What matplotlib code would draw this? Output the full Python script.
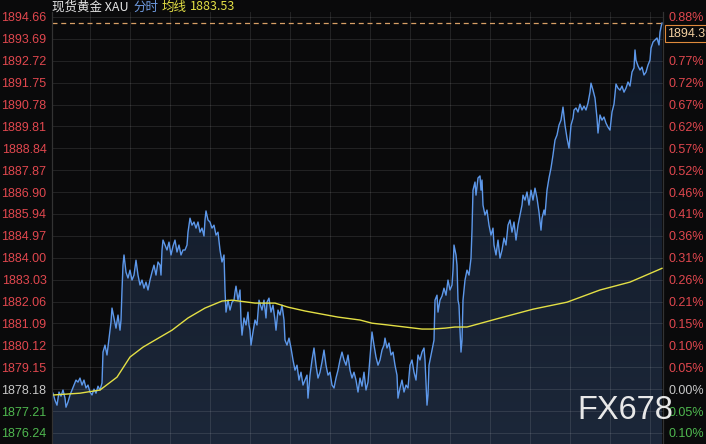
import numpy as np
import matplotlib
matplotlib.use("Agg")
import matplotlib.pyplot as plt
from matplotlib.colors import LinearSegmentedColormap
from matplotlib.patches import PathPatch

# minute index / spot gold price
minutes = [0, 2, 4, 6, 8, 10, 12, 13, 15, 17, 19, 21, 23, 25, 27, 29, 31, 33, 35, 37, 39, 41, 43, 45, 47, 49,
           50, 52, 54, 56, 58, 59, 61, 63, 65, 67, 68, 69, 70, 71, 73, 75, 77, 79, 81, 83, 85, 87, 89, 91, 93,
           95, 97, 99, 101, 103, 105,
           107, 108, 109, 110, 112, 114, 116, 118, 120, 122, 124, 126, 128, 130, 132, 134, 135, 137, 139, 141,
           143, 145, 147, 149, 151, 152, 153, 155, 157, 159, 161, 163, 165, 167, 169, 171, 172, 173, 175, 177,
           179, 181, 182, 183, 185, 187, 188, 189, 191, 193, 195, 196, 197, 198, 200, 202, 204, 206,
           209, 211, 213, 214, 216, 218, 220, 222, 223, 225, 227, 229, 231, 232, 234, 236, 238, 240, 242, 244,
           246, 248, 250, 252, 254, 255, 257, 259, 261, 263, 265, 267, 269, 271, 273, 275, 277, 279, 281, 283,
           285, 287, 289, 291, 293, 295, 297, 299, 301,
           303, 305, 307, 309, 311, 313, 315, 316, 318, 319, 321, 323, 325, 327, 329, 331, 332, 334, 336, 338,
           340, 342, 344, 345, 347, 349, 351, 353, 355, 357, 359, 361, 363, 365, 367, 369, 371, 372, 374, 375,
           376, 378, 380, 381, 382, 384, 385, 387, 389, 391, 393, 395, 397, 399, 400, 401, 403, 404, 405, 406,
           407, 408, 409, 410, 412, 414, 416, 418, 419, 420, 422, 423, 425, 427, 428, 429, 430, 432, 434, 436,
           438, 440, 441, 443, 445, 447, 449, 451, 453, 455, 457, 459, 461, 463, 465, 467, 469, 470, 472, 474,
           476, 478, 480, 482, 484, 486, 488, 489, 491, 492, 494, 496, 498, 500, 502,
           504, 506, 508, 510, 512, 514, 516, 518, 520, 521, 523, 525, 527, 529, 531, 533, 535, 537, 538, 540,
           542, 544, 545, 547, 549, 551, 553, 555, 557, 559, 561, 563, 565, 567, 569, 571, 573, 575, 577, 579,
           581, 582, 583, 585, 587, 589, 591, 593, 595, 597, 598, 600, 602, 604, 606, 607, 608, 609]
prices = [1878.00, 1877.69, 1877.47, 1878.05, 1877.87, 1878.14, 1877.78, 1877.38, 1877.61, 1877.92, 1878.14,
          1878.36, 1878.58, 1878.49, 1878.67, 1878.36, 1878.58, 1878.23, 1878.36, 1878.05, 1877.92, 1878.18,
          1878.00, 1878.31, 1878.14, 1878.45,
          1879.82, 1880.13, 1879.69, 1880.44, 1881.15, 1881.77, 1881.33, 1880.88, 1881.46, 1880.79, 1881.24,
          1882.57, 1883.67, 1884.12, 1883.36, 1883.10, 1883.45, 1883.01, 1883.23, 1883.89, 1883.23, 1882.79,
          1883.01, 1882.65, 1882.92, 1882.57, 1883.01, 1883.36, 1883.67, 1883.23, 1883.81,
          1883.67, 1883.23, 1884.34, 1884.78, 1884.56, 1884.34, 1884.69, 1884.12, 1884.51, 1884.78, 1884.25,
          1884.56, 1884.12, 1884.34, 1884.34, 1884.56, 1885.13, 1885.75, 1885.44, 1885.58, 1885.31, 1885.58,
          1885.13, 1885.31, 1884.96, 1885.67, 1886.07, 1885.67, 1885.58, 1885.31, 1885.44, 1885.00, 1885.13,
          1884.34, 1883.81, 1884.12, 1882.57, 1881.59, 1882.12, 1881.68, 1882.03, 1882.12, 1882.48, 1882.74,
          1882.12, 1882.57, 1881.24, 1880.57, 1881.33, 1881.02, 1881.59, 1881.02, 1880.79, 1880.13, 1880.71,
          1881.24, 1881.02, 1882.12,
          1881.68, 1882.12, 1881.33, 1882.03, 1882.21, 1881.59, 1881.90, 1881.24, 1880.79, 1881.68, 1881.46,
          1881.90, 1881.24, 1880.35, 1880.13, 1880.44, 1880.00, 1879.47, 1879.02, 1879.24, 1878.58, 1878.93,
          1878.36, 1878.58, 1878.80, 1877.78, 1878.80, 1879.47, 1880.00, 1879.24, 1878.67, 1878.93, 1879.38,
          1879.91, 1879.24, 1878.80, 1878.93, 1878.36, 1878.23, 1878.67, 1879.02, 1879.47, 1879.82, 1879.47,
          1879.24, 1879.69, 1879.02, 1878.67, 1878.93,
          1878.58, 1878.05, 1878.67, 1878.31, 1878.93, 1878.14, 1878.49, 1879.02, 1880.13, 1880.71, 1880.13,
          1879.60, 1879.24, 1879.47, 1879.91, 1880.13, 1880.44, 1880.00, 1880.22, 1879.69, 1879.82, 1879.24,
          1878.80, 1877.78, 1878.23, 1878.58, 1878.05, 1878.36, 1878.23, 1879.24, 1879.47, 1878.93, 1878.58,
          1879.69, 1879.47, 1879.82, 1880.00, 1879.47, 1877.47, 1877.92, 1879.24, 1879.69, 1880.13, 1880.35,
          1882.12, 1882.34, 1881.59, 1882.12, 1882.30, 1882.65, 1882.34, 1883.01, 1882.57, 1882.79, 1883.45,
          1884.56, 1884.12, 1883.67, 1882.12, 1881.90, 1880.79, 1879.82, 1880.35, 1882.12, 1883.01, 1883.45,
          1883.23, 1883.98, 1885.22, 1886.99, 1887.35, 1886.77, 1887.53, 1887.62, 1886.99, 1887.44, 1886.33,
          1885.89, 1886.11, 1885.44, 1885.00, 1885.31, 1884.56, 1884.12, 1884.78, 1883.98, 1884.34, 1884.87,
          1884.56, 1885.44, 1885.67, 1885.13, 1885.58, 1884.78, 1885.44, 1885.89, 1886.33, 1886.77, 1886.55,
          1886.91, 1886.33, 1886.99, 1886.55, 1887.08, 1886.64, 1886.02, 1885.22, 1885.75, 1886.11, 1885.89,
          1886.99, 1887.53, 1887.97, 1888.55, 1889.21,
          1889.43, 1889.87, 1890.09, 1890.67, 1889.87, 1889.30, 1888.85, 1889.87, 1890.18, 1890.54, 1890.63,
          1890.45, 1890.80, 1890.54, 1890.71, 1890.54, 1890.85, 1891.33, 1891.73, 1891.42, 1891.07, 1890.18,
          1889.52, 1890.32, 1890.09, 1890.23, 1889.96, 1889.78, 1889.65, 1890.45, 1890.80, 1891.69, 1891.51,
          1891.42, 1891.60, 1891.33, 1891.51, 1891.78, 1891.60, 1892.22, 1892.40, 1893.20, 1892.75, 1892.49,
          1892.31, 1892.44, 1892.09, 1892.22, 1892.53, 1892.75, 1893.28, 1893.55, 1893.64, 1893.73, 1893.42,
          1893.99, 1894.21, 1894.39]

# 均线 (average price line)
avg_minutes = [0, 27, 47, 64, 77, 90, 107, 119, 135, 152, 169, 179, 202, 222, 235, 252, 269, 285, 307, 319,
               335, 352, 369, 379, 392, 402, 414, 447, 480, 514, 547, 577, 609]
avg_prices = [1877.92, 1878.00, 1878.14, 1878.71, 1879.60, 1880.04, 1880.48, 1880.79, 1881.33, 1881.77,
              1882.08, 1882.12, 1881.99, 1881.99, 1881.81, 1881.64, 1881.50, 1881.37, 1881.24, 1881.10,
              1881.02, 1880.93, 1880.84, 1880.84, 1880.88, 1880.93, 1880.93, 1881.33, 1881.72, 1882.03,
              1882.57, 1882.92, 1883.53]

price_ticks = [1894.66, 1893.69, 1892.72, 1891.75, 1890.78, 1889.81, 1888.84, 1887.87, 1886.90, 1885.94,
               1884.97, 1884.00, 1883.03, 1882.06, 1881.09, 1880.12, 1879.15, 1878.18, 1877.21, 1876.24]
base_price = 1878.18
last_price = 1894.39
avg_last = 1883.53

bg = "#0a0a0b"
up_col = "#e0474e"
down_col = "#4fb84f"
flat_col = "#c8c8c8"

fig = plt.figure(figsize=(7.06, 4.44), dpi=100, facecolor=bg)
ax = fig.add_axes([52 / 706, 0, (663 - 52) / 706, (444 - 12) / 444])
ax.set_facecolor(bg)
ax.set_xlim(-1, 610)
ax.set_ylim(1875.75, 1894.88)

# gradient fill under the price line
poly = ax.fill_between(minutes, prices, 1875.75, color="none")
clip = PathPatch(poly.get_paths()[0], transform=ax.transData, facecolor="none", edgecolor="none")
ax.add_patch(clip)
cmap = LinearSegmentedColormap.from_list("fill", ["#1c2739", "#0f1724"])
grad = np.linspace(0, 1, 256).reshape(-1, 1)
im = ax.imshow(grad, extent=[-1, 610, 1875.75, 1894.88], aspect="auto", cmap=cmap,
               origin="lower", zorder=1)
im.set_clip_path(clip)

ax.plot(minutes, prices, color="#5d98ea", lw=1.0, zorder=4)
ax.plot(avg_minutes, avg_prices, color="#e3df45", lw=1.0, zorder=4)
ax.axhline(last_price, color="#d9a066", lw=0.9, ls=(0, (4, 3)), zorder=5)

# grid
ax.set_yticks(price_ticks)
ax.set_xticks(np.arange(37, 610, 40))
ax.grid(True, color="white", alpha=0.1, lw=0.8, zorder=2)
ax.set_axisbelow(False)
ax.tick_params(axis="x", length=0, labelbottom=False)

def label_color(p):
    if p > base_price + 0.001:
        return up_col
    if p < base_price - 0.001:
        return down_col
    return flat_col

ax.set_yticklabels([f"{p:.2f}" for p in price_ticks], fontsize=9, family="Liberation Sans")
ax.tick_params(axis="y", length=0, pad=4)
for lab, p in zip(ax.get_yticklabels(), price_ticks):
    lab.set_color(label_color(p))

ax2 = ax.twinx()
ax2.set_ylim(ax.get_ylim())
ax2.set_yticks(price_ticks)
pct = [f"{abs(p - base_price) / base_price * 100:.2f}%" for p in price_ticks]
pct[1] = ""
ax2.set_yticklabels(pct, fontsize=9, family="Liberation Sans")
ax2.tick_params(axis="y", length=0, pad=4)
for lab, p in zip(ax2.get_yticklabels(), price_ticks):
    lab.set_color(label_color(p))

for a in (ax, ax2):
    for side in ("top", "bottom"):
        a.spines[side].set_visible(False)
    for side in ("left", "right"):
        a.spines[side].set_color("#333333")

# header
ty = 1 - 7 / 444
hdr_font = ["Noto Sans CJK SC", "DejaVu Sans"]
fig.text(52 / 706, ty, "现货黄金 XAU", color="#e6e6e6", fontsize=9, va="center", family=hdr_font)
fig.text(133 / 706, ty, "分时", color="#6f9be0", fontsize=9, va="center", family=hdr_font)
fig.text(162 / 706, ty, "均线", color="#e3df45", fontsize=9, va="center", family=hdr_font)
fig.text(190 / 706, ty, f"{avg_last:.2f}", color="#e3df45", fontsize=9, va="center", family=hdr_font)

# last price box (partly cut by the right edge, as in the source)
fig.text(667 / 706, 1 - 34 / 444, f"{last_price:.2f}", color="#f2cfa0", fontsize=9, va="center",
         ha="left", family="Liberation Sans",
         bbox=dict(boxstyle="square,pad=0.2", fc=bg, ec="#e08a3c", lw=0.8))

# watermark
fig.text(577 / 706, 1 - 410 / 444, "FX678", color="#e8e8e8", fontsize=23.5, va="center", ha="left",
         family="Liberation Sans", zorder=10)

fig.savefig("out.png", dpi=100, facecolor=bg)
